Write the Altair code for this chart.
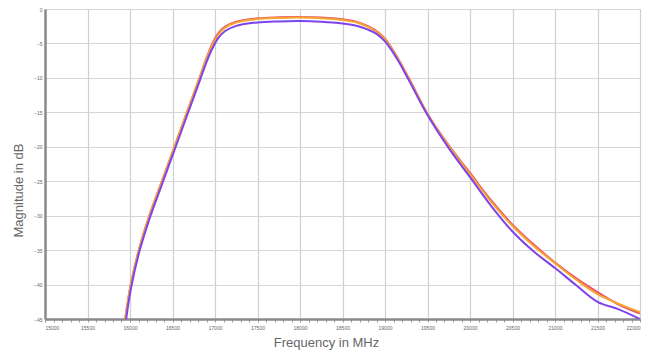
import altair as alt
import pandas as pd

freq = [15944, 16009, 16104, 16228, 16375, 16523, 16670, 16818, 16900,
        16970, 17040, 17120, 17250, 17500, 17750, 18000, 18250, 18500, 18650, 18800,
        18900, 19000, 19150, 19283, 19500, 19750, 20000, 20250, 20500, 20750,
        21000, 21250, 21500, 21750, 22000]

red = [-45, -40, -35, -30, -25, -20, -15, -10, -7.1,
       -5.0, -3.5, -2.55, -1.85, -1.35, -1.2, -1.15, -1.25, -1.5, -1.8, -2.5,
       -3.2, -4.3, -7.1, -10.1, -15.2, -19.8, -23.8, -27.8, -31.3, -34.2,
       -36.8, -39.1, -41.1, -42.9, -44.2]

orange = [-45, -40, -35, -30, -25, -20, -15, -10, -7.2,
          -5.2, -3.7, -2.7, -1.95, -1.45, -1.3, -1.25, -1.35, -1.6, -1.9, -2.6,
          -3.3, -4.4, -7.2, -10.2, -15.3, -19.9, -24.0, -28.0, -31.5, -34.4,
          -36.9, -39.3, -41.4, -42.8, -44.0]

purple = [-46, -40.7, -35.5, -30.5, -25.5, -20.5, -15.5, -10.5, -7.7,
          -5.7, -4.2, -3.2, -2.45, -1.95, -1.8, -1.75, -1.85, -2.1, -2.4, -3.0,
          -3.6, -4.7, -7.4, -10.4, -15.4, -20.2, -24.4, -28.6, -32.3, -35.2,
          -37.6, -40.1, -42.5, -43.6, -45.0]

series_names = ["A", "B", "C"]
series_vals = [red, orange, purple]
series_colors = ["#e8506a", "#f7a531", "#7d44ee"]

rows = []
for name, vals in zip(series_names, series_vals):
    for f, v in zip(freq, vals):
        rows.append({"freq": f, "mag": v, "series": name})
df = pd.DataFrame(rows)

x_ticks = list(range(15000, 22001, 100))
y_ticks = list(range(-45, 1, 5))

x_axis = alt.Axis(
    values=x_ticks,
    labelExpr="datum.value % 500 === 0 ? datum.value : ''",
    labelFontSize=5, labelColor="#666", labelPadding=3,
    gridColor="#cfcfcf", gridWidth=1.2,
    gridOpacity={"condition": {"test": "datum.value % 500 === 0", "value": 1}, "value": 0},
    tickSize=3, tickColor="#999", tickWidth=1,
    domainColor="#8a8a8a", domainWidth=2.5,
    title="Frequency in MHz", titleFontSize=13, titleColor="#666",
    titleFontWeight="normal", titleFont="Liberation Sans",
    titleX=281, titleY=23, titleBaseline="middle",
)
y_axis = alt.Axis(
    values=y_ticks, labelFontSize=5, labelColor="#666", labelPadding=3,
    gridColor="#d6d6d6", gridWidth=1,
    tickSize=0, domainColor="#8a8a8a", domainWidth=2.5,
    title="Magnitude in dB", titleFontSize=13, titleColor="#666",
    titleFontWeight="normal", titleFont="Liberation Sans",
    titleX=-27, titleY=181, titleBaseline="middle", titleAngle=-90,
)

chart = alt.Chart(df).mark_line(strokeWidth=2, interpolate="catmull-rom", clip=True).encode(
    x=alt.X("freq:Q", scale=alt.Scale(domain=[15000, 22000], nice=False), axis=x_axis),
    y=alt.Y("mag:Q", scale=alt.Scale(domain=[-45, 0], nice=False), axis=y_axis),
    color=alt.Color("series:N", scale=alt.Scale(domain=series_names, range=series_colors), legend=None),
    order=alt.Order("series:N"),
).properties(
    width=595, height=310,
    autosize=alt.AutoSizeParams(type="none"),
    padding={"left": 37, "top": 1, "right": 6, "bottom": 36},
).configure_view(
    stroke="#cfcfcf", strokeWidth=1.2
).configure(background="white")

chart.save("out.html", embed_options={"renderer": "svg", "actions": False})
